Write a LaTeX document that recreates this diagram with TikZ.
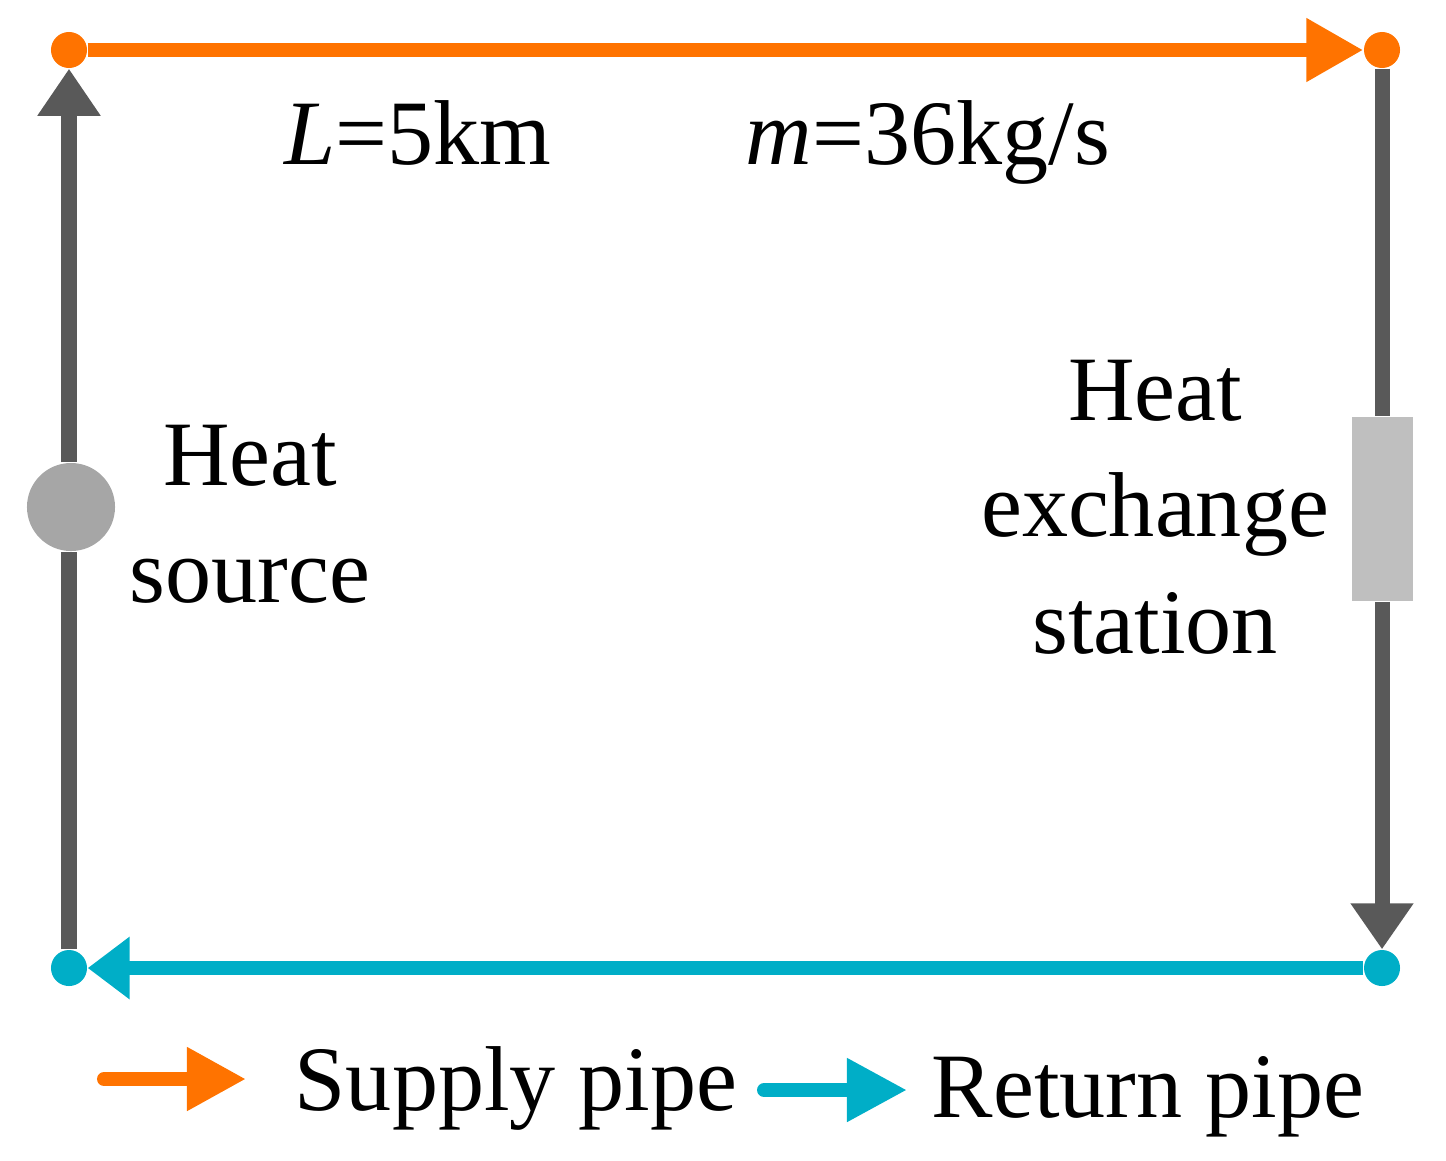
\documentclass[tikz,border=0pt]{standalone}
\usepackage{fontspec}
\setmainfont{Liberation Serif}
\usetikzlibrary{arrows.meta}
\definecolor{supplycol}{HTML}{FF7300}
\definecolor{returncol}{HTML}{00AEC7}
\definecolor{pipegray}{HTML}{595959}
\begin{document}
\begin{tikzpicture}[x=0.01cm,y=-0.01cm,
    every node/.style={font=\fontsize{26.2pt}{33pt}\selectfont},
    joint/.style={circle,inner sep=0pt,minimum size=0.36cm},
    supply/.style={draw=supplycol,line width=0.14cm},
    return/.style={draw=returncol,line width=0.14cm},
    link/.style={draw=pipegray,line width=0.15cm},
    tip/.style={-{Triangle[length=#1,width=0.6cm]}},
    tip/.default=0.5cm]
  \useasboundingbox (0,0) rectangle (1446,1160);
  % corners of the loop
  \node[joint,fill=supplycol] (tl) at (69,50) {};
  \node[joint,fill=supplycol] (tr) at (1382,50) {};
  \node[joint,fill=returncol] (bl) at (69,968) {};
  \node[joint,fill=returncol] (br) at (1382,968) {};
  \node[circle,fill=black!35,inner sep=0pt,minimum size=0.88cm] (hs) at (71,507) {};
  \node[rectangle,fill=black!25,inner sep=0pt,minimum width=0.61cm,minimum height=1.84cm] (hx) at (1382,509) {};
  % pipes
  \draw[supply,tip=0.57cm] (tl) -- (tr);
  \draw[return,tip=0.42cm] (br) -- (bl);
  \draw[link] (bl) -- (bl |- hs.south);
  \draw[link,tip=0.47cm] (bl |- hs.north) -- (tl);
  \draw[link] (tr) -- (hx);
  \draw[link,tip=0.46cm] (hx) -- (br);
  % labels
  \node[anchor=base] (len) at (418,164) {\textit{L}=5km};
  \node[anchor=base] (flow) at (928,164) {\textit{m}=36kg/s};
  \node[anchor=base,align=center] (srctext) at (250,602) {Heat\\source};
  \node[anchor=base,align=center] (hxtext) at (1155,653) {Heat\\exchange\\station};
  % legend
  \coordinate (s0) at (104,1079);
  \coordinate (s1) at (246,1079);
  \coordinate (r0) at (764,1090);
  \coordinate (r1) at (907,1090);
  \draw[supply,line cap=round,tip=0.59cm] (s0) -- (s1);
  \draw[return,line cap=round,tip=0.6cm] (r0) -- (r1);
  \node[anchor=base west,inner sep=0pt] (stext) at (294,1110) {Supply pipe};
  \node[anchor=base west,inner sep=0pt] (rtext) at (931,1117) {Return pipe};
\end{tikzpicture}
\end{document}
